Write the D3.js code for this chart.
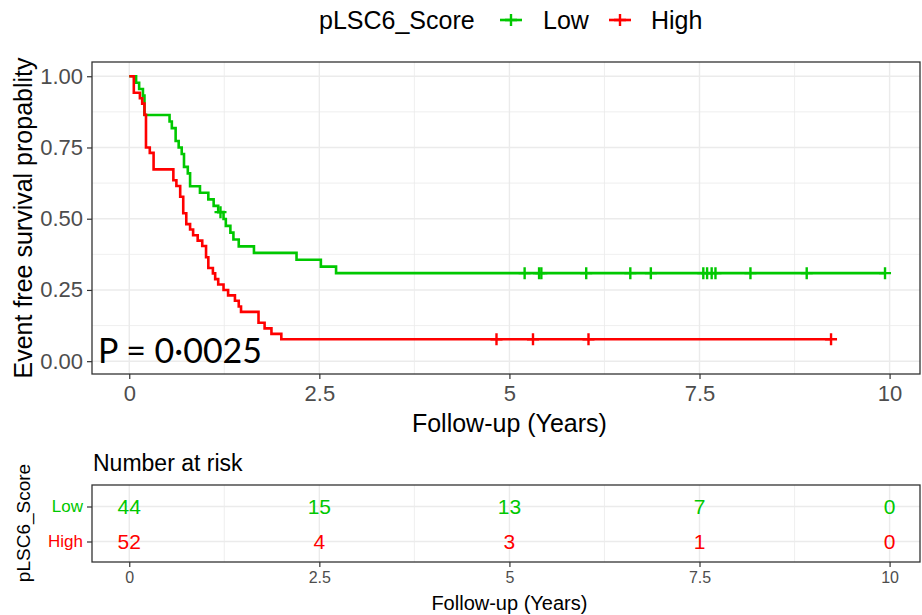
<!DOCTYPE html>
<html>
<head>
<meta charset="utf-8">
<script src="https://cdn.jsdelivr.net/npm/d3@7"></script>
<style>
  html, body { margin: 0; padding: 0; background: #fff; }
  svg { display: block; font-family: "Liberation Sans", Arial, sans-serif; }
</style>
</head>
<body>
<svg id="chart" width="922" height="615"></svg>
<script>
// Kaplan–Meier steps: event times (years) and survival after each step
const lowTimes  = [0, 0.09, 0.13, 0.18, 0.20, 0.53, 0.56, 0.61, 0.65, 0.69, 0.72, 0.77, 0.80, 0.93, 1.04, 1.11, 1.17, 1.24, 1.27, 1.33, 1.37, 1.44, 1.64, 2.20, 2.52, 2.72];
const lowSurv   = [1, 0.977, 0.955, 0.932, 0.864, 0.841, 0.818, 0.773, 0.750, 0.727, 0.682, 0.659, 0.614, 0.591, 0.568, 0.545, 0.523, 0.499, 0.475, 0.451, 0.427, 0.403, 0.380, 0.356, 0.332, 0.309];
const lowCensor = [1.20, 5.20, 5.39, 5.42, 6.01, 6.59, 6.86, 7.55, 7.60, 7.66, 7.71, 8.17, 8.91, 9.94];

const highTimes  = [0, 0.06, 0.14, 0.17, 0.20, 0.22, 0.27, 0.32, 0.58, 0.62, 0.67, 0.71, 0.75, 0.80, 0.84, 0.90, 0.96, 1.01, 1.04, 1.10, 1.13, 1.17, 1.24, 1.30, 1.39, 1.44, 1.47, 1.70, 1.78, 1.87, 2.00];
const highSurv   = [1, 0.942, 0.923, 0.904, 0.865, 0.750, 0.731, 0.673, 0.635, 0.615, 0.577, 0.519, 0.481, 0.462, 0.442, 0.423, 0.404, 0.365, 0.327, 0.308, 0.288, 0.269, 0.250, 0.231, 0.212, 0.192, 0.173, 0.135, 0.115, 0.096, 0.077];
const highCensor = [4.83, 5.31, 6.04, 9.23];

// Number-at-risk table
const riskTimes = [0, 2.5, 5, 7.5, 10];
const riskLow   = [44, 15, 13, 7, 0];
const riskHigh  = [52, 4, 3, 1, 0];

const groupNames  = ["Low", "High"];
const groupColors = ["#00C800", "#FF0000"];
const xTicks = [0, 2.5, 5, 7.5, 10];
const yTicks = [0, 0.25, 0.5, 0.75, 1];
const pValueText = "P = 0\u00B70025";

const svg = d3.select("#chart");
const groups = [
  { name: groupNames[0], color: groupColors[0], times: lowTimes,  surv: lowSurv,  censor: lowCensor,  risk: riskLow },
  { name: groupNames[1], color: groupColors[1], times: highTimes, surv: highSurv, censor: highCensor, risk: riskHigh }
];

const panel = { left: 92, right: 920, top: 62, bottom: 374 };
const x = d3.scaleLinear().domain([-0.49, 10.4]).range([panel.left, panel.right]);
const y = d3.scaleLinear().domain([-0.045, 1.05]).range([panel.bottom, panel.top]);

const gridColor = "#EBEBEB";
const axisText = "#4D4D4D";

// Grid lines (major and minor)
const gMain = svg.append("g");
const xMinor = [1.25, 3.75, 6.25, 8.75];
const yMinor = [0.125, 0.375, 0.625, 0.875];
gMain.selectAll(".gx").data(xMinor.concat(xTicks)).join("line")
  .attr("x1", d => x(d)).attr("x2", d => x(d))
  .attr("y1", panel.top).attr("y2", panel.bottom)
  .attr("stroke", gridColor).attr("stroke-width", (d) => xTicks.includes(d) ? 1.4 : 0.8);
gMain.selectAll(".gy").data(yMinor.concat(yTicks)).join("line")
  .attr("y1", d => y(d)).attr("y2", d => y(d))
  .attr("x1", panel.left).attr("x2", panel.right)
  .attr("stroke", gridColor).attr("stroke-width", (d) => yTicks.includes(d) ? 1.4 : 0.8);

// Survival step curves
const stepLine = d3.line().x(d => x(d[0])).y(d => y(d[1])).curve(d3.curveStepAfter);
function survAt(g, t) {
  let s = g.surv[0];
  g.times.forEach((tt, i) => { if (tt <= t) s = g.surv[i]; });
  return s;
}
function crossPath(cx, cy, r) {
  return `M${cx - r},${cy}H${cx + r}M${cx},${cy - r}V${cy + r}`;
}
groups.forEach(g => {
  const pts = g.times.map((t, i) => [t, g.surv[i]]);
  const tEnd = d3.max(g.censor);
  pts.push([tEnd, g.surv[g.surv.length - 1]]);
  gMain.append("path").datum(pts)
    .attr("d", stepLine)
    .attr("fill", "none").attr("stroke", g.color).attr("stroke-width", 2.6);
  gMain.selectAll(null).data(g.censor).join("path")
    .attr("d", t => crossPath(x(t), y(survAt(g, t)), 6))
    .attr("stroke", g.color).attr("stroke-width", 2.4).attr("fill", "none");
});

// Panel border
gMain.append("rect")
  .attr("x", panel.left).attr("y", panel.top)
  .attr("width", panel.right - panel.left).attr("height", panel.bottom - panel.top)
  .attr("fill", "none").attr("stroke", "#333").attr("stroke-width", 1.3);

// Axes
const xAxis = svg.append("g").attr("transform", `translate(0,${panel.bottom})`)
  .call(d3.axisBottom(x).tickValues(xTicks).tickFormat(d3.format("~g")).tickSize(5).tickPadding(6));
const yAxis = svg.append("g").attr("transform", `translate(${panel.left},0)`)
  .call(d3.axisLeft(y).tickValues(yTicks).tickFormat(d3.format(".2f")).tickSize(5).tickPadding(4));
[xAxis, yAxis].forEach(a => {
  a.select(".domain").remove();
  a.selectAll(".tick line").attr("stroke", "#333").attr("stroke-width", 1.2);
  a.selectAll(".tick text").attr("fill", axisText).attr("font-size", 22)
    .attr("font-family", "'Liberation Sans', Arial, sans-serif");
});

svg.append("text").attr("x", (x(0) + x(10)) / 2).attr("y", 432)
  .attr("text-anchor", "middle").attr("font-size", 25).attr("fill", "#000")
  .text("Follow-up (Years)");
svg.append("text").attr("transform", `translate(32,218) rotate(-90)`)
  .attr("text-anchor", "middle").attr("font-size", 25).attr("fill", "#000")
  .text("Event free survival propablity");

// p-value annotation
svg.append("text").attr("x", 98).attr("y", 363)
  .attr("font-family", "Lato, 'Open Sans', sans-serif").attr("font-size", 34).attr("fill", "#000")
  .text(pValueText);

// Legend
const legend = svg.append("g");
legend.append("text").attr("x", 319).attr("y", 29).attr("font-size", 25).text("pLSC6_Score");
const legendItems = [{ cx: 511, tx: 543 }, { cx: 620, tx: 651 }];
groups.forEach((g, i) => {
  const it = legendItems[i];
  legend.append("line").attr("x1", it.cx - 11).attr("x2", it.cx + 11)
    .attr("y1", 20).attr("y2", 20).attr("stroke", g.color).attr("stroke-width", 2.6);
  legend.append("path").attr("d", crossPath(it.cx, 20, 6))
    .attr("stroke", g.color).attr("stroke-width", 2.4);
  legend.append("text").attr("x", it.tx).attr("y", 29).attr("font-size", 25).text(g.name);
});

// Risk table
const rt = { top: 485, bottom: 562 };
const yr = d3.scalePoint().domain(groupNames).range([506.5, 541.5]);
const gRisk = svg.append("g");
gRisk.selectAll(".rgx").data(xMinor.concat(xTicks)).join("line")
  .attr("x1", d => x(d)).attr("x2", d => x(d))
  .attr("y1", rt.top).attr("y2", rt.bottom)
  .attr("stroke", gridColor).attr("stroke-width", d => xTicks.includes(d) ? 1.4 : 0.8);
gRisk.selectAll(".rgy").data(groupNames).join("line")
  .attr("y1", d => yr(d)).attr("y2", d => yr(d))
  .attr("x1", panel.left).attr("x2", panel.right)
  .attr("stroke", gridColor).attr("stroke-width", 1.4);
groups.forEach(g => {
  gRisk.selectAll(null).data(riskTimes).join("text")
    .attr("x", t => x(t)).attr("y", yr(g.name) + 7.5)
    .attr("text-anchor", "middle").attr("font-size", 21).attr("fill", g.color)
    .text((t, i) => g.risk[i]);
});
gRisk.append("rect")
  .attr("x", panel.left).attr("y", rt.top)
  .attr("width", panel.right - panel.left).attr("height", rt.bottom - rt.top)
  .attr("fill", "none").attr("stroke", "#333").attr("stroke-width", 1.3);

const rxAxis = svg.append("g").attr("transform", `translate(0,${rt.bottom})`)
  .call(d3.axisBottom(x).tickValues(xTicks).tickFormat(d3.format("~g")).tickSize(5).tickPadding(5));
const ryAxis = svg.append("g").attr("transform", `translate(${panel.left},0)`)
  .call(d3.axisLeft(yr).tickSize(5).tickPadding(4));
rxAxis.select(".domain").remove();
ryAxis.select(".domain").remove();
rxAxis.selectAll(".tick line").attr("stroke", "#333").attr("stroke-width", 1.2);
ryAxis.selectAll(".tick line").attr("stroke", "#333").attr("stroke-width", 1.2);
rxAxis.selectAll(".tick text").attr("fill", axisText).attr("font-size", 16)
  .attr("font-family", "'Liberation Sans', Arial, sans-serif");
ryAxis.selectAll(".tick text").attr("font-size", 17)
  .attr("font-family", "'Liberation Sans', Arial, sans-serif")
  .attr("fill", d => groupColors[groupNames.indexOf(d)]);

svg.append("text").attr("x", 93).attr("y", 471).attr("font-size", 23).text("Number at risk");
svg.append("text").attr("x", (x(0) + x(10)) / 2).attr("y", 610)
  .attr("text-anchor", "middle").attr("font-size", 20).text("Follow-up (Years)");
svg.append("text").attr("transform", `translate(30,523) rotate(-90)`)
  .attr("text-anchor", "middle").attr("font-size", 19).text("pLSC6_Score");
</script>
</body>
</html>
